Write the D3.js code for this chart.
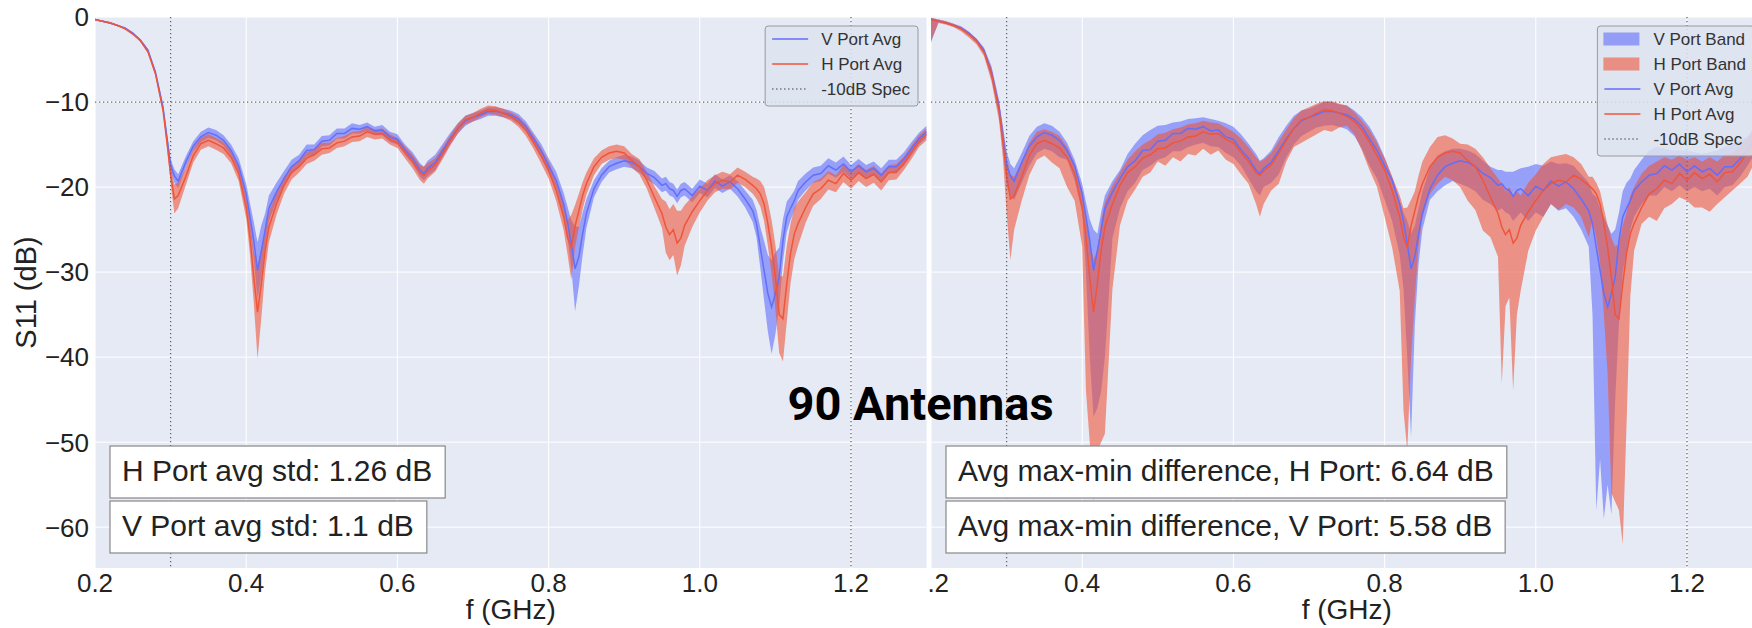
<!DOCTYPE html>
<html>
<head>
<meta charset="utf-8">
<script src="https://cdn.jsdelivr.net/npm/d3@7"></script>
<style>
  html, body { margin: 0; padding: 0; background: #fff; }
  svg { display: block; }
</style>
</head>
<body>
<svg id="chart" width="1752" height="628"></svg>
<script>
// Frequency grid (GHz)
const freq = [
  0.20,0.21,0.22,0.23,0.24,0.25,0.26,0.27,0.28,0.29,
  0.295,0.30,0.305,0.31,0.32,0.33,0.34,0.35,0.36,0.37,
  0.38,0.39,0.40,0.405,0.41,0.415,0.42,0.425,0.43,0.44,
  0.45,0.46,0.47,0.48,0.49,0.50,0.51,0.52,0.53,0.54,
  0.55,0.56,0.57,0.58,0.59,0.60,0.61,0.62,0.63,0.635,
  0.64,0.65,0.66,0.67,0.68,0.69,0.70,0.71,0.72,0.73,
  0.74,0.75,0.76,0.77,0.78,0.79,0.80,0.81,0.82,0.825,
  0.83,0.835,0.84,0.845,0.85,0.86,0.87,0.88,0.89,0.90,
  0.91,0.92,0.93,0.94,0.95,0.955,0.96,0.965,0.97,0.975,
  0.98,0.99,1.00,1.01,1.02,1.03,1.04,1.05,1.06,1.07,
  1.075,1.08,1.085,1.09,1.095,1.10,1.105,1.11,1.115,1.12,
  1.125,1.13,1.14,1.15,1.16,1.17,1.18,1.19,1.20,1.21,
  1.22,1.23,1.24,1.25,1.26,1.27,1.28,1.29,1.30
];

// Average S11 across antennas (dB)
const vAvg = [
  -0.3,-0.5,-0.7,-1.0,-1.3,-1.9,-2.7,-3.9,-6.5,-10.6,
  -14.0,-17.4,-18.7,-19.3,-17.1,-15.2,-14.1,-13.6,-13.9,-14.5,
  -15.7,-17.5,-20.8,-23.5,-26.3,-29.8,-27.5,-25.1,-22.5,-20.6,
  -19.0,-17.6,-16.9,-15.7,-15.6,-14.6,-14.5,-13.7,-13.7,-13.1,
  -13.2,-12.9,-13.4,-13.3,-14.1,-14.4,-15.6,-16.6,-18.0,-18.4,
  -17.8,-17.1,-15.7,-14.3,-13.1,-12.2,-11.8,-11.5,-11.1,-11.1,
  -11.3,-11.5,-12.0,-12.9,-14.3,-15.7,-17.5,-19.2,-22.0,-24.1,
  -26.7,-29.6,-28.2,-25.5,-23.1,-20.2,-18.6,-17.6,-17.2,-16.9,
  -17.1,-17.6,-18.4,-18.9,-19.8,-19.6,-20.2,-20.4,-21.1,-20.4,
  -20.2,-21.0,-19.9,-20.4,-19.3,-19.9,-19.4,-20.2,-21.4,-22.8,
  -24.3,-27.1,-29.8,-32.5,-34.1,-32.5,-30.6,-26.3,-23.5,-22.5,
  -21.6,-20.4,-19.4,-18.6,-18.4,-17.5,-18.0,-17.3,-18.2,-17.5,
  -18.2,-17.8,-18.6,-17.6,-17.6,-16.7,-15.5,-14.3,-13.5
];
const hAvg = [
  -0.3,-0.5,-0.7,-1.0,-1.4,-2.0,-2.8,-4.1,-6.7,-11.0,
  -14.6,-18.5,-21.4,-21.0,-18.8,-16.3,-14.9,-14.5,-14.9,-15.4,
  -16.5,-18.4,-22.4,-25.9,-30.6,-34.7,-31.4,-27.5,-24.7,-22.0,
  -19.8,-18.3,-17.6,-16.6,-16.2,-15.5,-15.4,-14.8,-14.6,-14.1,
  -14.0,-13.5,-13.8,-13.7,-14.4,-14.8,-15.9,-17.0,-18.3,-18.6,
  -18.1,-17.4,-16.0,-14.5,-13.1,-12.1,-11.8,-11.3,-10.9,-11.0,
  -11.3,-11.7,-12.3,-13.3,-14.7,-16.3,-18.0,-20.4,-23.5,-25.9,
  -27.1,-24.6,-22.8,-21.0,-19.6,-17.6,-16.5,-16.0,-15.8,-16.0,
  -16.9,-17.6,-19.2,-21.2,-23.1,-24.7,-25.6,-25.0,-26.6,-26.0,
  -24.5,-22.9,-21.6,-20.4,-19.6,-19.2,-19.4,-18.6,-19.1,-19.8,
  -20.2,-20.8,-22.0,-24.3,-27.1,-30.6,-35.0,-35.5,-31.4,-27.8,
  -25.5,-24.3,-22.4,-20.8,-20.2,-19.2,-19.6,-18.4,-19.2,-18.3,
  -19.0,-18.5,-19.4,-18.3,-18.2,-17.2,-15.9,-14.6,-13.8
];

// Standard deviation across antennas (dB)
const vStd = [
  0.1,0.1,0.1,0.1,0.1,0.1,0.1,0.15,0.2,0.3,
  0.4,0.7,0.8,0.8,0.7,0.6,0.6,0.6,0.6,0.6,
  0.7,0.9,1.2,1.6,2.2,3.3,3.0,2.0,1.5,1.1,
  0.9,0.8,0.7,0.7,0.6,0.6,0.6,0.6,0.6,0.6,
  0.5,0.5,0.5,0.6,0.6,0.6,0.6,0.7,0.8,0.8,
  0.9,0.9,0.8,0.7,0.6,0.6,0.5,0.5,0.5,0.5,
  0.5,0.5,0.6,0.6,0.7,0.8,0.9,1.0,1.3,1.8,
  2.8,5.0,3.5,2.5,1.7,1.0,0.8,0.7,0.7,0.7,
  0.7,0.7,0.7,0.8,0.8,0.8,0.8,0.8,0.8,0.8,
  0.8,0.8,0.8,0.8,0.8,0.8,0.8,0.9,1.0,1.3,
  1.6,2.4,3.5,4.5,5.5,4.8,3.5,2.5,1.8,1.4,
  1.2,1.1,1.0,0.9,0.9,0.9,0.9,0.9,0.8,0.8,
  0.8,0.8,0.8,0.8,0.8,0.8,0.8,0.7,0.7
];
const hStd = [
  0.1,0.1,0.1,0.1,0.1,0.1,0.1,0.15,0.2,0.3,
  0.5,1.0,1.7,1.5,1.0,0.8,0.7,0.7,0.7,0.7,
  0.7,0.9,1.3,2.0,3.0,5.5,4.0,2.5,1.8,1.3,
  1.0,0.8,0.7,0.7,0.7,0.7,0.6,0.6,0.6,0.6,
  0.6,0.6,0.6,0.6,0.6,0.6,0.7,0.8,0.9,1.0,
  0.9,0.8,0.7,0.6,0.6,0.5,0.5,0.5,0.5,0.5,
  0.5,0.5,0.6,0.7,0.8,0.9,1.0,1.2,1.6,2.0,
  3.8,2.5,2.0,1.6,1.3,1.0,0.8,0.8,0.8,0.8,
  0.8,0.9,1.0,1.3,1.7,3.0,3.0,3.0,3.8,3.2,
  2.4,1.8,1.4,1.2,1.0,1.0,0.9,0.9,0.9,1.0,
  1.2,1.5,2.0,2.6,3.2,3.8,4.5,5.0,4.5,3.5,
  3.0,2.6,1.8,1.4,1.2,1.1,1.0,1.0,1.0,1.0,
  1.0,1.0,1.0,0.9,0.9,0.8,0.8,0.7,0.7
];

// Max / min across antennas (dB)
const vMax = [
  -0.1,-0.3,-0.5,-0.8,-1.1,-1.7,-2.5,-3.6,-5.8,-9.8,
  -12.8,-15.8,-17.3,-17.8,-16.0,-14.0,-12.9,-12.5,-12.8,-13.5,
  -14.8,-16.8,-19.6,-21.8,-23.8,-25.0,-25.5,-23.0,-21.0,-19.3,
  -18.0,-16.1,-14.9,-13.9,-13.3,-12.8,-12.7,-12.4,-12.3,-12.0,
  -11.9,-11.8,-12.0,-12.2,-12.5,-12.9,-13.8,-14.9,-16.1,-16.9,
  -16.6,-15.7,-14.1,-12.8,-11.6,-11.0,-10.8,-10.4,-10.0,-10.0,
  -10.3,-10.4,-11.0,-11.8,-12.9,-14.5,-16.5,-18.8,-21.6,-23.0,
  -24.0,-25.5,-24.5,-22.5,-20.5,-17.8,-16.3,-15.8,-15.5,-15.5,
  -15.7,-16.1,-16.9,-17.6,-18.0,-18.0,-18.2,-18.2,-18.2,-18.0,
  -17.8,-17.6,-17.3,-17.5,-17.0,-17.3,-17.2,-17.5,-18.5,-19.5,
  -20.8,-21.2,-22.5,-23.5,-24.5,-25.5,-25.0,-23.0,-20.5,-19.5,
  -19.0,-18.0,-16.8,-15.7,-15.3,-15.5,-15.7,-15.7,-15.7,-15.9,
  -16.1,-15.9,-15.7,-15.3,-14.9,-14.5,-14.1,-12.8,-12.0
];
const vMin = [
  -3.0,-0.6,-0.8,-1.1,-1.5,-2.2,-3.0,-4.3,-7.2,-11.6,
  -15.5,-19.8,-21.0,-21.5,-19.5,-17.5,-16.0,-15.5,-15.8,-16.5,
  -16.8,-19.2,-23.0,-30.0,-40.0,-47.0,-46.0,-44.0,-40.0,-26.0,
  -22.5,-20.5,-19.5,-18.0,-17.5,-16.8,-16.5,-15.8,-15.8,-15.3,
  -15.0,-14.8,-15.2,-15.3,-16.0,-16.5,-17.5,-19.0,-20.5,-21.0,
  -20.0,-19.5,-18.5,-16.5,-15.0,-14.0,-13.5,-13.0,-12.8,-12.7,
  -12.9,-13.2,-14.0,-15.5,-17.5,-19.0,-21.5,-24.0,-28.0,-32.0,
  -40.0,-49.4,-36.1,-29.0,-25.0,-21.5,-20.5,-19.8,-19.3,-19.6,
  -20.0,-20.5,-21.5,-22.0,-22.8,-22.5,-23.0,-23.2,-24.0,-23.5,
  -23.0,-24.0,-23.0,-23.5,-22.0,-22.8,-22.5,-23.5,-25.0,-27.0,
  -35.0,-58.0,-52.0,-59.0,-55.0,-58.5,-45.0,-36.0,-30.0,-27.5,
  -25.0,-23.5,-22.0,-21.0,-21.0,-20.0,-20.5,-19.8,-20.5,-20.0,
  -20.5,-20.2,-21.0,-20.0,-19.8,-18.8,-17.5,-16.0,-15.0
];
const hMax = [
  -0.1,-0.3,-0.5,-0.8,-1.2,-1.8,-2.6,-3.8,-6.0,-10.0,
  -13.0,-16.5,-18.5,-18.8,-17.0,-14.8,-13.5,-13.2,-13.5,-14.0,
  -15.3,-17.3,-20.4,-23.5,-26.5,-28.5,-27.5,-24.0,-21.8,-19.8,
  -18.3,-16.8,-15.8,-15.0,-14.5,-13.8,-13.6,-13.2,-13.0,-12.6,
  -12.5,-12.2,-12.4,-12.5,-13.0,-13.5,-14.3,-15.3,-16.5,-17.0,
  -16.8,-16.0,-14.6,-13.2,-11.9,-11.0,-10.6,-10.2,-9.9,-9.9,
  -10.2,-10.4,-11.2,-12.2,-13.3,-14.8,-16.6,-18.8,-21.0,-22.5,
  -22.4,-21.5,-20.5,-18.6,-17.0,-15.3,-14.1,-13.9,-14.3,-14.9,
  -15.0,-15.5,-16.5,-17.8,-19.0,-19.6,-20.5,-20.0,-21.0,-20.5,
  -21.0,-19.5,-18.5,-17.3,-16.5,-16.3,-16.1,-16.5,-17.3,-18.8,
  -18.8,-19.5,-20.5,-22.5,-24.5,-26.0,-27.0,-26.7,-24.5,-23.0,
  -21.0,-20.0,-18.4,-17.5,-17.0,-16.5,-16.8,-16.3,-16.8,-16.5,
  -17.0,-16.5,-17.0,-16.2,-16.0,-15.2,-14.2,-13.2,-12.5
];
const hMin = [
  -2.8,-0.7,-0.9,-1.2,-1.7,-2.4,-3.2,-4.6,-7.6,-12.2,
  -16.5,-23.0,-28.6,-25.0,-21.6,-18.6,-16.8,-16.3,-17.1,-17.8,
  -20.0,-21.6,-27.0,-44.0,-50.0,-57.0,-51.0,-50.0,-49.0,-32.0,
  -24.5,-21.6,-20.3,-18.8,-18.3,-17.0,-17.5,-16.5,-17.0,-16.1,
  -16.3,-15.5,-16.2,-15.7,-16.8,-17.3,-18.5,-19.6,-22.0,-23.5,
  -22.0,-20.4,-19.6,-17.0,-15.3,-14.8,-14.3,-13.8,-13.3,-13.5,
  -13.0,-12.8,-13.8,-15.7,-18.0,-20.0,-23.5,-27.1,-32.2,-46.3,
  -51.0,-40.0,-33.0,-27.0,-23.5,-20.8,-19.6,-18.8,-19.2,-20.0,
  -21.6,-22.7,-25.1,-25.9,-28.2,-43.1,-34.0,-33.0,-43.9,-35.0,
  -32.2,-27.5,-25.1,-23.5,-22.0,-22.7,-22.0,-22.4,-23.5,-25.9,
  -24.0,-26.0,-29.0,-35.0,-42.0,-56.0,-57.0,-58.0,-62.0,-48.0,
  -32.9,-27.5,-24.3,-23.5,-24.0,-22.5,-22.0,-21.2,-21.6,-22.4,
  -22.4,-22.9,-22.0,-21.2,-20.4,-19.6,-18.8,-17.0,-15.8
];

const xTicks = [0.2, 0.4, 0.6, 0.8, 1.0, 1.2];
const xTickLabels = ["0.2", "0.4", "0.6", "0.8", "1.0", "1.2"];
const yTicks = [0, -10, -20, -30, -40, -50, -60];
const yTickLabels = ["0", "\u221210", "\u221220", "\u221230", "\u221240", "\u221250", "\u221260"];

const specFreqs = [0.3, 1.2];
const specLevel = -10;

const stdNotes = ["H Port avg std: 1.26 dB", "V Port avg std: 1.1 dB"];
const rangeNotes = ["Avg max-min difference, H Port: 6.64 dB", "Avg max-min difference, V Port: 5.58 dB"];
const chartTitle = "90 Antennas";

// ---- layout & style ----
const PLOT_TOP = 17, PLOT_BOTTOM = 568, PANEL_W = 831.6;
const X_DOMAIN = [0.2, 1.3], Y_DOMAIN = [-64.8, 0];
const BG = "#E5EAF5";
const BLUE = "#636EFA", RED = "#EF553B";
const BAND_OPACITY = 0.6;
const SANS = "'Liberation Sans', Arial, Helvetica, sans-serif";
const INK = "#222";

const svg = d3.select("#chart");
const defs = svg.append("defs");

const rows = freq.map((f, i) => ({
  f, vAvg: vAvg[i], hAvg: hAvg[i], vStd: vStd[i], hStd: hStd[i],
  vMax: vMax[i], vMin: vMin[i], hMax: hMax[i], hMin: hMin[i]
}));

function drawPanel(cfg) {
  const x = d3.scaleLinear().domain(X_DOMAIN).range([cfg.left, cfg.left + PANEL_W]);
  const y = d3.scaleLinear().domain(Y_DOMAIN).range([PLOT_BOTTOM, PLOT_TOP]);
  const right = cfg.left + PANEL_W;

  const g = svg.append("g");
  if (cfg.clipFrom != null) {
    defs.append("clipPath").attr("id", cfg.id + "-outer")
      .append("rect").attr("x", cfg.clipFrom).attr("y", 0)
      .attr("width", 2000).attr("height", 628);
    g.attr("clip-path", `url(#${cfg.id}-outer)`);
  }

  defs.append("clipPath").attr("id", cfg.id + "-plot")
    .append("rect").attr("x", cfg.left).attr("y", PLOT_TOP)
    .attr("width", PANEL_W).attr("height", PLOT_BOTTOM - PLOT_TOP);

  g.append("rect").attr("x", cfg.left).attr("y", PLOT_TOP)
    .attr("width", PANEL_W).attr("height", PLOT_BOTTOM - PLOT_TOP).attr("fill", BG);

  // grid
  const grid = g.append("g").attr("stroke", "#fff").attr("stroke-width", 1);
  grid.selectAll("line.gx").data(xTicks).join("line")
    .attr("x1", d => x(d)).attr("x2", d => x(d))
    .attr("y1", PLOT_TOP).attr("y2", PLOT_BOTTOM);
  grid.selectAll("line.gy").data(yTicks).join("line")
    .attr("x1", cfg.left).attr("x2", right)
    .attr("y1", d => y(d)).attr("y2", d => y(d));

  const plot = g.append("g").attr("clip-path", `url(#${cfg.id}-plot)`);

  const lo = cfg.mode === "std"
    ? { v: d => d.vAvg - d.vStd, h: d => d.hAvg - d.hStd }
    : { v: d => d.vMin, h: d => d.hMin };
  const hi = cfg.mode === "std"
    ? { v: d => d.vAvg + d.vStd, h: d => d.hAvg + d.hStd }
    : { v: d => d.vMax, h: d => d.hMax };

  const areaV = d3.area().x(d => x(d.f)).y0(d => y(lo.v(d))).y1(d => y(hi.v(d)));
  const areaH = d3.area().x(d => x(d.f)).y0(d => y(lo.h(d))).y1(d => y(hi.h(d)));
  plot.append("path").datum(rows).attr("d", areaV)
    .attr("fill", BLUE).attr("fill-opacity", BAND_OPACITY);
  plot.append("path").datum(rows).attr("d", areaH)
    .attr("fill", RED).attr("fill-opacity", BAND_OPACITY);

  const lineV = d3.line().x(d => x(d.f)).y(d => y(d.vAvg));
  const lineH = d3.line().x(d => x(d.f)).y(d => y(d.hAvg));
  plot.append("path").datum(rows).attr("d", lineV)
    .attr("fill", "none").attr("stroke", BLUE).attr("stroke-width", 1.5);
  plot.append("path").datum(rows).attr("d", lineH)
    .attr("fill", "none").attr("stroke", RED).attr("stroke-width", 1.5);

  // -10 dB spec markers
  const spec = plot.append("g").attr("stroke", "#666").attr("stroke-width", 1.3)
    .attr("stroke-dasharray", "1.3,2.7").attr("fill", "none");
  spec.selectAll("line.sv").data(specFreqs).join("line")
    .attr("x1", d => x(d)).attr("x2", d => x(d))
    .attr("y1", PLOT_TOP).attr("y2", PLOT_BOTTOM);
  spec.append("line").attr("x1", cfg.left).attr("x2", right)
    .attr("y1", y(specLevel)).attr("y2", y(specLevel));

  // x tick labels
  g.append("g").selectAll("text").data(xTicks).join("text")
    .attr("x", d => x(d)).attr("y", 592)
    .attr("text-anchor", "middle")
    .attr("font-family", SANS).attr("font-size", 26).attr("fill", INK)
    .text((d, i) => xTickLabels[i]);

  g.append("text").attr("x", (cfg.left + right) / 2).attr("y", 619)
    .attr("text-anchor", "middle")
    .attr("font-family", SANS).attr("font-size", 28).attr("fill", INK)
    .text("f (GHz)");

  if (cfg.yAxis) {
    g.append("g").selectAll("text").data(yTicks).join("text")
      .attr("x", cfg.left - 6).attr("y", d => y(d)).attr("dy", "0.36em")
      .attr("text-anchor", "end")
      .attr("font-family", SANS).attr("font-size", 26).attr("fill", INK)
      .text((d, i) => yTickLabels[i]);
    g.append("text")
      .attr("transform", `translate(36,${(PLOT_TOP + PLOT_BOTTOM) / 2}) rotate(-90)`)
      .attr("text-anchor", "middle")
      .attr("font-family", SANS).attr("font-size", 29).attr("fill", INK)
      .text("S11 (dB)");
  }

  // legend
  const lg = g.append("g");
  const box = lg.append("rect").attr("y", 26).attr("rx", 3).attr("ry", 3)
    .attr("fill", "#DDE3EF").attr("fill-opacity", 0.85)
    .attr("stroke", "#9a9a9a").attr("stroke-width", 1);
  const items = lg.append("g");
  let maxW = 0;
  cfg.legend.forEach((it, i) => {
    const cy = 39 + i * 25;
    const row = items.append("g").attr("transform", `translate(0,${cy})`);
    if (it.type === "patch") {
      row.append("rect").attr("x", 6).attr("y", -6.5).attr("width", 36).attr("height", 13)
        .attr("fill", it.color).attr("fill-opacity", BAND_OPACITY);
    } else if (it.type === "line") {
      row.append("line").attr("x1", 7).attr("x2", 43).attr("y1", 0).attr("y2", 0)
        .attr("stroke", it.color).attr("stroke-width", 1.5);
    } else {
      row.append("line").attr("x1", 7).attr("x2", 43).attr("y1", 0).attr("y2", 0)
        .attr("stroke", "#666").attr("stroke-width", 1.3).attr("stroke-dasharray", "1.3,2.7");
    }
    const t = row.append("text").attr("x", 56).attr("y", 0).attr("dy", "0.35em")
      .attr("font-family", SANS).attr("font-size", 17).attr("fill", "#333")
      .text(it.label);
    maxW = Math.max(maxW, t.node().getComputedTextLength());
  });
  const boxW = 56 + maxW + 8;
  const boxX = right - 8.6 - boxW;
  box.attr("x", boxX).attr("width", boxW).attr("height", cfg.legend.length * 25 + 5);
  items.attr("transform", `translate(${boxX},0)`);

  // summary text boxes
  cfg.notes.forEach((txt, i) => {
    const top = 446 + i * 55;
    const ng = g.append("g");
    const r = ng.append("rect").attr("x", cfg.left + 15).attr("y", top)
      .attr("height", 52).attr("fill", "#fff").attr("stroke", "#888").attr("stroke-width", 1.2);
    const t = ng.append("text").attr("x", cfg.left + 27).attr("y", top + 35)
      .attr("font-family", SANS).attr("font-size", 30).attr("fill", INK).text(txt);
    r.attr("width", t.node().getComputedTextLength() + 25);
  });
}

// right panel first: its left margin sits underneath the left panel
drawPanel({
  id: "range", left: 931, clipFrom: 928, mode: "minmax", yAxis: false,
  legend: [
    { type: "patch", color: BLUE, label: "V Port Band" },
    { type: "patch", color: RED, label: "H Port Band" },
    { type: "line", color: BLUE, label: "V Port Avg" },
    { type: "line", color: RED, label: "H Port Avg" },
    { type: "dot", label: "-10dB Spec" }
  ],
  notes: rangeNotes
});

drawPanel({
  id: "std", left: 95, mode: "std", yAxis: true,
  legend: [
    { type: "line", color: BLUE, label: "V Port Avg" },
    { type: "line", color: RED, label: "H Port Avg" },
    { type: "dot", label: "-10dB Spec" }
  ],
  notes: stdNotes
});

svg.append("text").attr("x", 920.5).attr("y", 420)
  .attr("text-anchor", "middle")
  .attr("font-family", "Roboto, 'Noto Sans', sans-serif").attr("font-weight", 700)
  .attr("font-size", 47).attr("fill", "#000")
  .text(chartTitle);
</script>
</body>
</html>
